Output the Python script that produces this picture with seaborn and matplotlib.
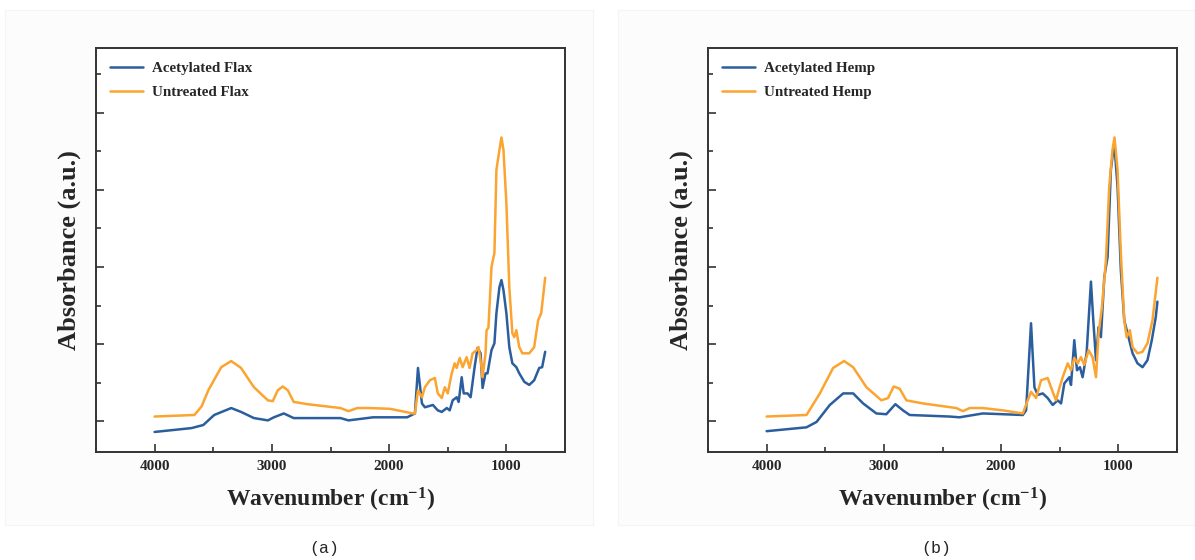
import numpy as np
import pandas as pd
import matplotlib
matplotlib.use("Agg")
import matplotlib.pyplot as plt
from matplotlib.patches import Rectangle
from matplotlib.ticker import MultipleLocator, NullFormatter
import seaborn as sns

# ---------------- data ----------------
flax_untreated_x = [4000, 3661, 3600, 3542, 3432, 3347, 3263, 3153, 3034, 2992, 2950, 2907, 2864, 2814,
                    2695, 2415, 2347, 2271, 2161, 1992, 1797, 1780, 1754, 1720, 1695, 1653, 1610, 1585,
                    1551, 1525, 1500, 1466, 1441, 1424, 1398, 1373, 1339, 1314, 1288, 1254, 1237, 1212,
                    1203, 1178, 1169, 1153, 1127, 1102, 1085, 1059, 1042, 1025, 1000, 975, 949, 932, 915,
                    890, 864, 805, 763, 729, 703, 669]
flax_untreated_y = [0.06, 0.08, 0.19, 0.40, 0.70, 0.78, 0.69, 0.44, 0.27, 0.26, 0.40, 0.45, 0.40, 0.25,
                    0.22, 0.17, 0.13, 0.17, 0.17, 0.16, 0.10, 0.10, 0.40, 0.31, 0.44, 0.53, 0.56, 0.36,
                    0.30, 0.44, 0.36, 0.62, 0.75, 0.69, 0.82, 0.70, 0.83, 0.69, 0.88, 0.92, 0.96, 0.70,
                    0.57, 0.88, 1.18, 1.21, 2.00, 2.18, 3.26, 3.52, 3.68, 3.52, 2.83, 1.74, 1.14, 1.09, 1.18,
                    0.96, 0.88, 0.88, 0.96, 1.31, 1.40, 1.86]

flax_acetylated_x = [4000, 3686, 3585, 3492, 3347, 3263, 3153, 3034, 2983, 2898, 2814, 2415, 2347, 2136,
                     1847, 1780, 1754, 1720, 1695, 1627, 1585, 1551, 1508, 1483, 1458, 1424, 1407, 1381,
                     1364, 1331, 1305, 1271, 1246, 1220, 1203, 1178, 1161, 1127, 1102, 1085, 1059, 1042,
                     1025, 1000, 975, 949, 915, 890, 847, 805, 763, 720, 695, 669]
flax_acetylated_y = [-0.14, -0.09, -0.05, 0.08, 0.17, 0.12, 0.04, 0.01, 0.05, 0.10, 0.04, 0.04, 0.01, 0.05,
                     0.05, 0.10, 0.69, 0.23, 0.18, 0.21, 0.14, 0.12, 0.17, 0.14, 0.27, 0.31, 0.25, 0.57,
                     0.36, 0.36, 0.31, 0.70, 0.95, 0.88, 0.43, 0.62, 0.62, 0.92, 1.01, 1.40, 1.74, 1.83,
                     1.70, 1.40, 0.96, 0.75, 0.70, 0.62, 0.51, 0.47, 0.53, 0.69, 0.70, 0.90]

hemp_untreated_x = [4000, 3660, 3546, 3433, 3339, 3262, 3149, 3021, 2964, 2916, 2865, 2808, 2667, 2383,
                    2326, 2269, 2156, 1986, 1815, 1773, 1745, 1702, 1659, 1603, 1560, 1532, 1503, 1475,
                    1432, 1404, 1376, 1347, 1319, 1291, 1254, 1220, 1191, 1169, 1140, 1106, 1078, 1050,
                    1033, 1007, 979, 950, 930, 902, 879, 837, 794, 752, 709, 667]
hemp_untreated_y = [0.06, 0.08, 0.36, 0.69, 0.78, 0.70, 0.44, 0.27, 0.30, 0.45, 0.42, 0.27, 0.23, 0.17,
                    0.13, 0.17, 0.17, 0.14, 0.10, 0.27, 0.38, 0.30, 0.53, 0.56, 0.38, 0.27, 0.43, 0.57,
                    0.75, 0.66, 0.82, 0.75, 0.83, 0.73, 0.92, 0.83, 0.57, 1.14, 1.48, 2.09, 3.04, 3.52,
                    3.68, 3.26, 2.18, 1.31, 1.09, 1.18, 0.96, 0.88, 0.90, 1.01, 1.31, 1.86]

hemp_acetylated_x = [4000, 3660, 3574, 3461, 3347, 3262, 3177, 3064, 2979, 2902, 2837, 2780, 2440, 2355,
                     2156, 1815, 1787, 1745, 1716, 1688, 1645, 1603, 1560, 1518, 1489, 1461, 1418, 1404,
                     1376, 1353, 1328, 1305, 1271, 1234, 1214, 1191, 1169, 1149, 1120, 1092, 1064, 1035,
                     1007, 979, 950, 922, 879, 837, 794, 752, 715, 681, 667]
hemp_acetylated_y = [-0.13, -0.08, -0.01, 0.21, 0.36, 0.36, 0.23, 0.10, 0.09, 0.22, 0.14, 0.08, 0.06, 0.05,
                     0.10, 0.08, 0.14, 1.27, 0.44, 0.34, 0.36, 0.30, 0.21, 0.27, 0.23, 0.49, 0.57, 0.47,
                     1.05, 0.66, 0.70, 0.57, 0.88, 1.81, 1.31, 0.79, 1.22, 1.09, 1.87, 2.13, 3.26, 3.61,
                     3.04, 1.96, 1.31, 1.14, 0.88, 0.75, 0.70, 0.79, 1.05, 1.35, 1.55]

panel_series = [
    ("(a)", ["Acetylated Flax", "Untreated Flax"],
     [(flax_acetylated_x, flax_acetylated_y), (flax_untreated_x, flax_untreated_y)]),
    ("(b)", ["Acetylated Hemp", "Untreated Hemp"],
     [(hemp_acetylated_x, hemp_acetylated_y), (hemp_untreated_x, hemp_untreated_y)]),
]
x_ticks = [4000, 3000, 2000, 1000]

# ---------------- style ----------------
sns.set_style("ticks")
plt.rcParams["font.family"] = ["Liberation Serif", "DejaVu Serif"]
plt.rcParams["mathtext.default"] = "regular"
plt.rcParams["axes.linewidth"] = 1.4
plt.rcParams["axes.edgecolor"] = "#333333"

BLUE = "#2b5e9e"
ORANGE = "#fba430"

fig = plt.figure(figsize=(11.95, 5.6), dpi=100)

# faint panel backgrounds (behind the axes)
for x0 in (5 / 1195, 618 / 1195):
    fig.patches.append(Rectangle((x0, 1 - 525 / 560), 588 / 1195, 515 / 560,
                                 transform=fig.transFigure, facecolor="#fcfcfc",
                                 edgecolor="#f4f4f4", linewidth=0.8, zorder=-10))

axes_lefts = [96 / 1195, 708 / 1195]
ax_w = 469 / 1195
ax_b = 1 - 452 / 560
ax_h = 404 / 560

for (tag, labels, series), left in zip(panel_series, axes_lefts):
    ax = fig.add_axes([left, ax_b, ax_w, ax_h])
    ax.set_zorder(5)
    ax.set_facecolor("white")
    frames = []
    for lab, (xs, ys) in zip(labels, series):
        frames.append(pd.DataFrame({"Wavenumber": xs, "Absorbance": ys, "Sample": lab}))
    df = pd.concat(frames, ignore_index=True)
    sns.lineplot(data=df, x="Wavenumber", y="Absorbance", hue="Sample",
                 hue_order=labels, palette=[BLUE, ORANGE], estimator=None,
                 sort=False, linewidth=1.8, ax=ax)
    ax.set_xlim(4500, 500)
    ax.set_ylim(-0.40, 4.84)
    ax.set_xticks(x_ticks)
    ax.set_xticklabels([str(t) for t in x_ticks], fontsize=11, fontweight="bold")
    ax.xaxis.set_minor_locator(MultipleLocator(500))
    ax.yaxis.set_major_locator(MultipleLocator(1))
    ax.yaxis.set_minor_locator(MultipleLocator(0.5))
    ax.yaxis.set_major_formatter(NullFormatter())
    ax.tick_params(which="major", direction="in", length=6, width=1.2, color="#333333",
                   top=False, right=False, pad=6)
    ax.tick_params(which="minor", direction="in", length=3.5, width=1.2, color="#333333",
                   top=False, right=False)
    for s in ax.spines.values():
        s.set_visible(True)
        s.set_color("#333333")
        s.set_linewidth(1.4)
    ax.set_xlabel("Wavenumber (cm$^{-1}$)", fontsize=17, fontweight="bold", labelpad=9)
    ax.set_ylabel("Absorbance (a.u.)", fontsize=19, fontweight="bold", labelpad=5)
    leg = ax.legend(loc="upper left", frameon=False, handlelength=2.2,
                    labelspacing=0.72, borderaxespad=0.5, handletextpad=0.65,
                    prop={"weight": "bold", "size": 10.8})
    for h in leg.get_lines():
        h.set_linewidth(1.8)
    fig.text(left + ax_w / 2 - 0.005, 1 - 548 / 560, tag, ha="center", va="center",
             fontsize=12, family=["Liberation Mono", "DejaVu Sans Mono"])

fig.savefig("out.png", dpi=100, facecolor="white")
